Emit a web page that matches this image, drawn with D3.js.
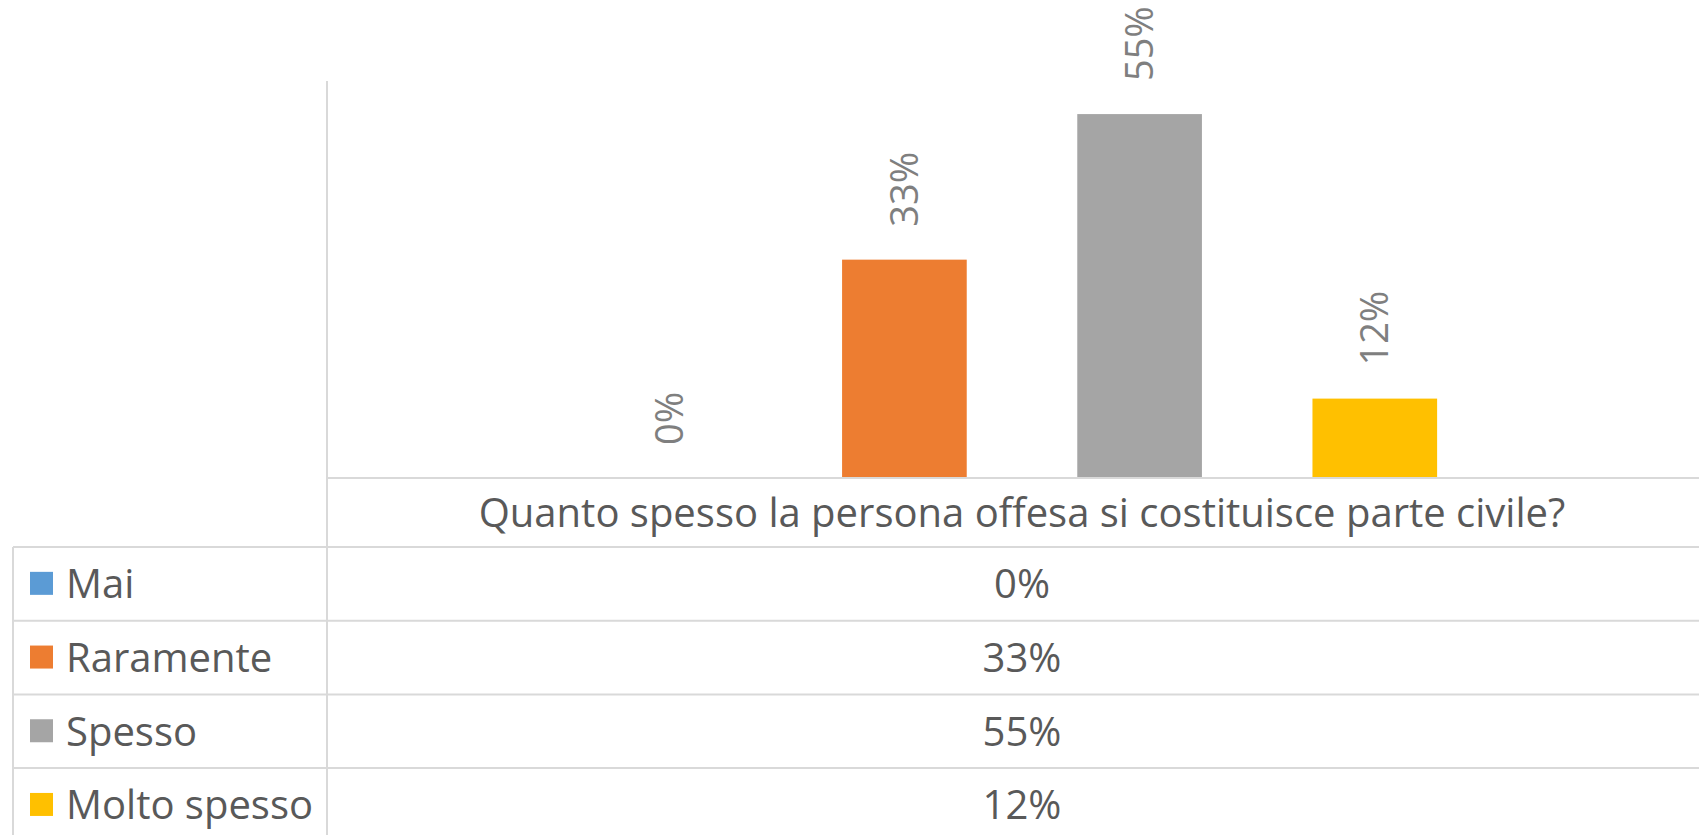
<!DOCTYPE html>
<html>
<head>
<meta charset="utf-8">
<script src="https://cdn.jsdelivr.net/npm/d3@7"></script>
<style>
  html, body { margin: 0; padding: 0; background: #fff; }
  svg text { font-family: "Open Sans", sans-serif; fill: #595959; }
  svg text.lbl { fill: #7F7F7F; }
</style>
</head>
<body>
<svg id="chart" width="1699" height="835"></svg>
<script>
// data
var categories = ["Quanto spesso la persona offesa si costituisce parte civile?"];
var seriesNames = ["Mai", "Raramente", "Spesso", "Molto spesso"];
var seriesValues = [0, 0.33, 0.55, 0.12];
var seriesColors = ["#5B9BD5", "#ED7D31", "#A5A5A5", "#FFC000"];

var W = 1699, H = 835;
var fontSize = 40;
var labelSize = 38;
var gridColor = "#D9D9D9";

var svg = d3.select("#chart");

// plot area (runs past the right edge, as in the cropped original)
var plotLeft = 327, plotRight = 1717, plotTop = 81, plotBottom = 478;
var tableLeft = 13;
var headerH = 69, rowH = 73.7;

var x0 = d3.scaleBand()
  .domain(categories)
  .range([plotLeft, plotRight]);

var x1 = d3.scaleBand()
  .domain(seriesNames)
  .range([0, x0.bandwidth()])
  .paddingInner(0.47)
  .paddingOuter(1.19);

var y = d3.scaleLinear()
  .domain([0, 0.6])
  .range([plotBottom, plotTop]);

var pct = d3.format(".0%");

var color = d3.scaleOrdinal().domain(seriesNames).range(seriesColors);

var rows = seriesNames.map(function(n, i) {
  return {name: n, value: seriesValues[i]};
});

// bars
var g = svg.append("g");
categories.forEach(function(cat) {
  var cg = g.append("g").attr("transform", "translate(" + x0(cat) + ",0)");

  cg.selectAll("rect")
    .data(rows)
    .join("rect")
      .attr("x", function(d) { return x1(d.name); })
      .attr("y", function(d) { return y(d.value); })
      .attr("width", x1.bandwidth())
      .attr("height", function(d) { return y(0) - y(d.value); })
      .attr("fill", function(d) { return color(d.name); });

  // rotated data labels, outside end
  cg.selectAll("text.lbl")
    .data(rows)
    .join("text")
      .attr("class", "lbl")
      .attr("transform", function(d) {
        var cx = x1(d.name) + x1.bandwidth() / 2;
        return "translate(" + cx + "," + (y(d.value) - 33) + ") rotate(-90)";
      })
      .attr("dy", "0.36em")
      .attr("text-anchor", "start")
      .style("font-size", labelSize + "px")
      .text(function(d) { return pct(d.value); });
});

// data table lines
var lines = svg.append("g")
  .attr("stroke", gridColor)
  .attr("stroke-width", 2)
  .attr("fill", "none");

// divider between legend column and values, also the plot's left edge
lines.append("line")
  .attr("x1", plotLeft).attr("x2", plotLeft)
  .attr("y1", plotTop).attr("y2", H);

// axis line / header top
lines.append("line")
  .attr("x1", plotLeft).attr("x2", W)
  .attr("y1", plotBottom).attr("y2", plotBottom);

var tableTop = plotBottom + headerH;
var rowY = d3.range(rows.length + 1).map(function(i) { return tableTop + i * rowH; });

lines.selectAll("line.row")
  .data(rowY)
  .join("line")
    .attr("class", "row")
    .attr("x1", tableLeft).attr("x2", W)
    .attr("y1", function(d) { return d; })
    .attr("y2", function(d) { return d; });

lines.append("line")
  .attr("x1", tableLeft).attr("x2", tableLeft)
  .attr("y1", tableTop).attr("y2", H);

// category label in header row
svg.append("text")
  .attr("x", x0(categories[0]) + x0.bandwidth() / 2)
  .attr("y", plotBottom + headerH / 2)
  .attr("dy", "0.36em")
  .attr("text-anchor", "middle")
  .style("font-size", fontSize + "px")
  .text(categories[0]);

// legend keys + values
var tr = svg.selectAll("g.trow")
  .data(rows)
  .join("g")
    .attr("class", "trow")
    .attr("transform", function(d, i) { return "translate(0," + (tableTop + i * rowH + rowH / 2) + ")"; });

tr.append("rect")
  .attr("x", 30)
  .attr("y", -12)
  .attr("width", 23)
  .attr("height", 23)
  .attr("fill", function(d) { return color(d.name); });

tr.append("text")
  .attr("x", 66)
  .attr("dy", "0.36em")
  .style("font-size", fontSize + "px")
  .text(function(d) { return d.name; });

tr.append("text")
  .attr("x", x0(categories[0]) + x0.bandwidth() / 2)
  .attr("dy", "0.36em")
  .attr("text-anchor", "middle")
  .style("font-size", fontSize + "px")
  .text(function(d) { return pct(d.value); });
</script>
</body>
</html>
